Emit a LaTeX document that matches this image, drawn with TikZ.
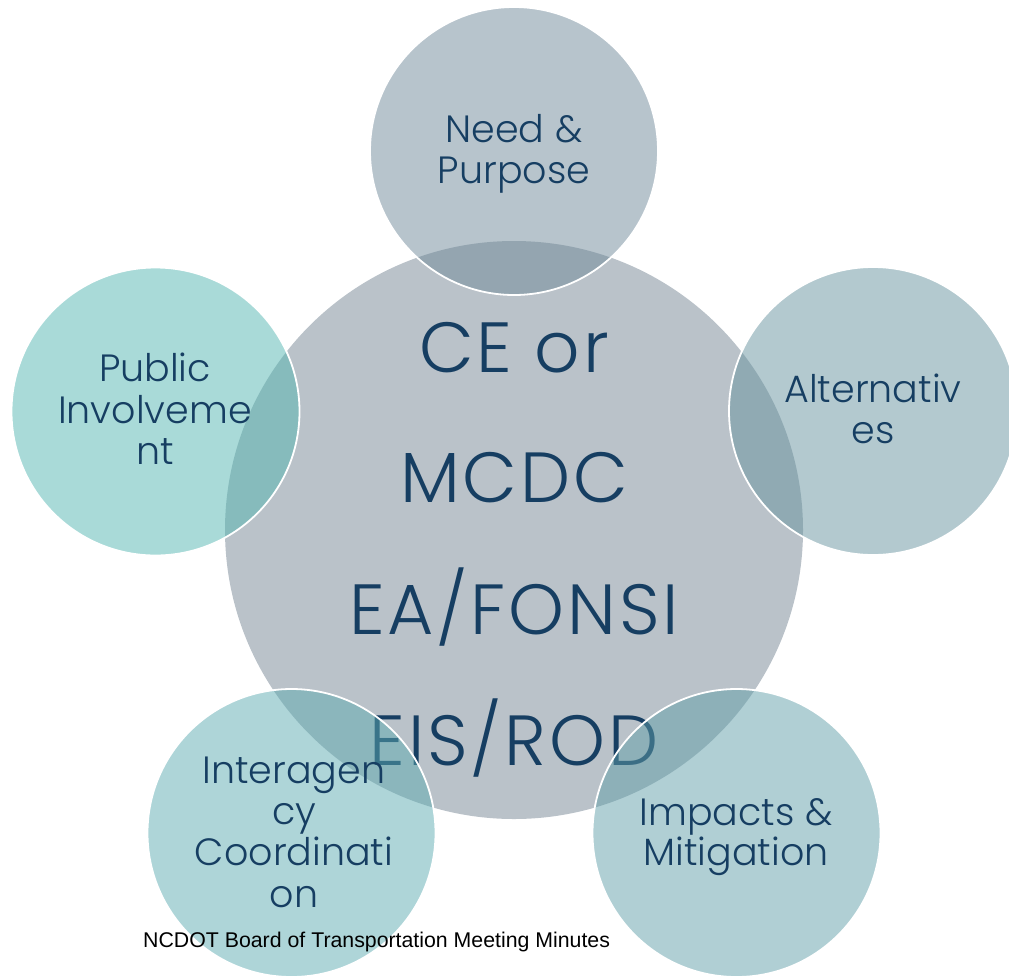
\documentclass[tikz,border=0pt]{standalone}
\usepackage{fontspec}
\setmainfont{Poppins Light}
\newfontfamily\footfont{Liberation Sans}
\newfontfamily\bigfont{Poppins Light}[LetterSpace=4]
\definecolor{ccore}{RGB}{186,194,201}
\definecolor{cneed}{RGB}{111,137,153}
\definecolor{calt}{RGB}{103,147,159}
\definecolor{cimp}{RGB}{97,159,169}
\definecolor{cint}{RGB}{93,171,177}
\definecolor{cpub}{RGB}{83,181,177}
\definecolor{navy}{RGB}{22,62,98}
\begin{document}
\begin{tikzpicture}[x=1pt,y=-1pt,
  outer/.style={circle, minimum size=288pt, inner sep=0pt, draw=white, line width=1.8pt, fill opacity=0.5, draw opacity=1},
  lbl/.style={anchor=base, text=navy, font=\fontsize{38}{41}\selectfont, inner sep=0pt},
  big/.style={anchor=base, text=navy, font=\bigfont\fontsize{71}{80}\selectfont, inner sep=0pt}]
\useasboundingbox (0,0) rectangle (1009,975);
\clip (0,0) rectangle (1009,975);
% core
\node[circle, minimum size=578pt, inner sep=0pt, fill=ccore] (core) at (514,530) {};
\node[big] (t1) at (514,372) {CE or};
\node[big] (t2) at (514,502) {MCDC};
\node[big] (t3) at (514,634) {EA/FONSI};
\node[big] (t4) at (514,765) {EIS/ROD};
% outer circles
\node[outer, fill=cneed] (need) at (514,151) {};
\node[outer, fill=calt] (alt) at (873,411) {};
\node[outer, fill=cimp] (imp) at (736.5,833) {};
\node[outer, fill=cint] (int) at (291.5,833) {};
\node[outer, fill=cpub] (pub) at (155.5,411.5) {};
% labels
\node[lbl] (n1) at (514,142) {Need \&};
\node[lbl] (n2) at (514,183) {Purpose};
\node[lbl] (a1) at (873,402) {Alternativ};
\node[lbl] (a2) at (873,443) {es};
\node[lbl] (p1) at (155,381) {Public};
\node[lbl] (p2) at (155,423) {Involveme};
\node[lbl] (p3) at (155,464) {nt};
\node[lbl] (i1) at (294,783) {Interagen};
\node[lbl] (i2) at (294,824) {cy};
\node[lbl] (i3) at (294,865) {Coordinati};
\node[lbl] (i4) at (294,907) {on};
\node[lbl] (m1) at (736,825) {Impacts \&};
\node[lbl] (m2) at (736,865) {Mitigation};
% footer
\node[anchor=base west, inner sep=0pt, font=\footfont\fontsize{21.3}{24}\selectfont, text=black] (foot) at (143,947) {NCDOT Board of Transportation Meeting Minutes};
\end{tikzpicture}
\end{document}
